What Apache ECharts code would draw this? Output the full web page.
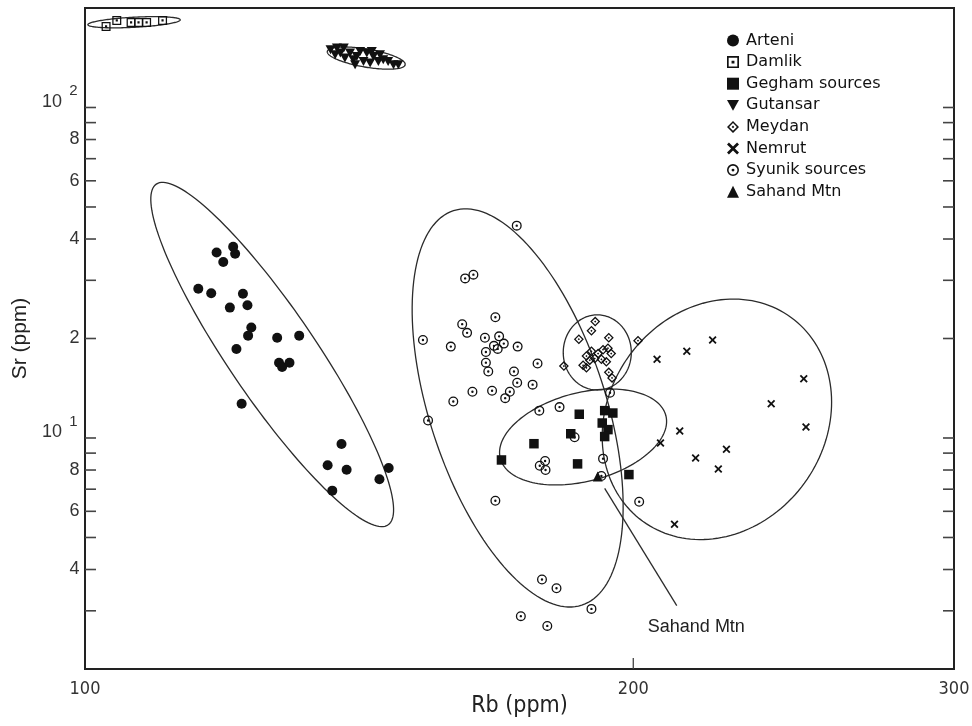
<!DOCTYPE html>
<html><head><meta charset="utf-8">
<script src="https://cdn.jsdelivr.net/npm/echarts@6/dist/echarts.min.js"></script>
<style>html,body{margin:0;padding:0;background:#fff;}#chart{width:972px;height:726px;}</style>
</head><body><div id="chart"></div>
<script>
// ---- data (Rb ppm, Sr ppm) ----
const seriesNames = ['Arteni','Damlik','Gegham sources','Gutansar','Meydan','Nemrut','Syunik sources','Sahand Mtn'];
const arteni = [[118.1,36.4],[120.6,37.9],[120.9,36.1],[119.1,34.1],[115.4,28.3],[117.3,27.4],[122.1,27.3],[120.1,24.8],[122.8,25.2],[123.4,21.6],[122.9,20.4],[127.5,20.1],[131.1,20.4],[121.1,18.6],[127.8,16.9],[128.3,16.4],[129.5,16.9],[121.9,12.7],[138.3,9.59],[135.9,8.27],[139.2,8.02],[136.7,6.93],[145.1,7.50],[146.8,8.11]];
const damlik = [[102.7,175.9],[104.1,183.4],[106.0,180.9],[107.0,180.9],[108.1,180.9],[110.3,183.4]];
const gegham = [[186.8,11.8],[192.9,12.1],[194.9,11.9],[192.3,11.1],[193.7,10.6],[192.9,10.1],[184.8,10.3],[176.4,9.61],[169.3,8.58],[186.4,8.35],[198.9,7.75]];
const gutansar = [[136.4,149.5],[137.5,151.3],[138.7,151.3],[138.1,146.1],[137.2,144.4],[139.8,146.1],[138.9,141.1],[140.4,139.4],[141.0,142.7],[141.6,147.8],[142.8,146.1],[144.0,142.7],[140.7,134.7],[142.2,137.8],[143.4,136.3],[144.9,137.8],[145.8,139.4],[146.7,137.8],[147.7,134.7],[148.6,134.7],[145.2,144.4],[143.7,147.8]];
const meydan = [[190.6,22.5],[189.7,21.1],[186.7,19.9],[193.9,20.1],[188.5,17.7],[189.7,18.3],[191.3,18.0],[192.5,18.5],[193.7,18.7],[194.5,18.0],[189.3,17.2],[190.5,17.4],[192.1,17.3],[193.3,17.0],[187.7,16.6],[188.5,16.3],[193.9,15.8],[194.7,15.2],[183.2,16.5],[201.2,19.7]];
const nemrut = [[206.1,17.3],[214.0,18.3],[221.1,19.8],[248.1,15.1],[238.1,12.7],[248.8,10.8],[212.1,10.5],[207.0,9.66],[225.0,9.24],[216.4,8.70],[222.7,8.06],[210.7,5.48]];
const syunik = [[172.6,43.9],[161.7,30.4],[163.4,31.2],[168.0,23.2],[161.1,22.1],[162.1,20.8],[153.3,19.8],[158.8,18.9],[165.8,20.1],[168.8,20.3],[167.7,19.0],[169.8,19.3],[168.5,18.6],[166.0,18.2],[166.0,16.9],[166.5,15.9],[172.8,18.9],[177.2,16.8],[172.0,15.9],[172.7,14.7],[176.1,14.5],[163.2,13.8],[167.3,13.9],[171.1,13.8],[170.1,13.2],[159.3,12.9],[154.3,11.3],[177.6,12.1],[182.2,12.4],[185.7,10.05],[177.7,8.24],[179.0,8.00],[178.9,8.52],[192.5,8.66],[168.0,6.46],[201.5,6.41],[178.2,3.73],[181.5,3.51],[189.7,3.04],[173.5,2.89],[179.4,2.70],[194.2,13.7],[192.1,7.67]];
const sahand = [[191.2,7.65]];

// group ellipses: [centre Rb, centre Sr, axis-1 end Rb, Sr, axis-2 end Rb, Sr]
const ellipseArteni   = [126.7,17.89,146.7,5.46,132.6,21.28];
const ellipseSyunik   = [172.8,12.33,187.4,3.12,192.1,14.90];
const ellipseMeydan   = [191.1,18.15,191.1,13.97,199.5,18.15];
const ellipseGegham   = [187.7,10.07,208.4,11.70,190.4,7.47];
const ellipseNemrut   = [222.3,11.39,202.4,5.60,248.3,7.30];
const ellipseDamlik   = [106.4,181.1,112.8,184.3,106.5,174.9];
const ellipseGutansar = [142.7,141.1,149.9,134.7,142.4,132.6];

// annotation
const sahandLeader = [[192.9,7.04],[211.3,3.11]];
const sahandLabel = ['Sahand Mtn'];
const sahandLabelAt = [[216.6,2.68]];

// axes
const X_MIN = 100, X_MAX = 300, Y_MIN = 2, Y_MAX = 200;
const yTickValues = [3,4,5,6,7,8,9,10,20,30,40,50,60,70,80,90,100];
const yLabelValues = [4,6,8,10,20,40,60,80,100];
const yLabelTexts = ['4','6','8','10^1','2','4','6','8','10^2'];
const xTickValues = [200];
const xLabelValues = [100,200,300];
const xLabelTexts = ['100','200','300'];

// ---- symbols ----
const SYM = {
  squareDot: 'path://M0,0L10,0L10,10L0,10Z M1.4,1.4L1.4,8.6L8.6,8.6L8.6,1.4Z M3.8,3.8L6.2,3.8L6.2,6.2L3.8,6.2Z',
  diamondDot: 'path://M5,0L10,5L5,10L0,5Z M5,1.8L1.8,5L5,8.2L8.2,5Z M5,3.9L6.1,5L5,6.1L3.9,5Z',
  circleDot: 'path://M5,0A5,5,0,1,1,5,10A5,5,0,1,1,5,0Z M5,1.3A3.7,3.7,0,1,0,5,8.7A3.7,3.7,0,1,0,5,1.3Z M5,3.8A1.2,1.2,0,1,1,5,6.2A1.2,1.2,0,1,1,5,3.8Z',
  xMark: 'path://M0,1.6L1.6,0L5,3.4L8.4,0L10,1.6L6.6,5L10,8.4L8.4,10L5,6.6L1.6,10L0,8.4L3.4,5Z',
  downTri: 'path://M0,0L10,0L5,9Z'
};
const INK = '#111';
const NARROW = '"Liberation Sans Narrow","DejaVu Sans Condensed","Liberation Sans",sans-serif';
const SANS = '"Liberation Sans",Arial,sans-serif';

function scatter(name, data, symbol, size) {
  return {type:'scatter', name, data, symbol, symbolSize:size, itemStyle:{color:INK, opacity:1}, z:5, silent:true};
}
function ellipseSeries(params) {
  return {
    type:'custom', coordinateSystem:'cartesian2d', data:[params], silent:true, z:3,
    encode:{x:0, y:1},
    renderItem:(p, api) => {
      const c = api.coord([api.value(0), api.value(1)]);
      const a = api.coord([api.value(2), api.value(3)]);
      const b = api.coord([api.value(4), api.value(5)]);
      const pts = [];
      const N = 160;
      for (let i = 0; i <= N; i++) {
        const t = i / N * Math.PI * 2;
        pts.push([c[0] + (a[0]-c[0])*Math.cos(t) + (b[0]-c[0])*Math.sin(t),
                  c[1] + (a[1]-c[1])*Math.cos(t) + (b[1]-c[1])*Math.sin(t)]);
      }
      return {type:'polyline', shape:{points:pts}, style:{fill:null, stroke:'#2b2b2b', lineWidth:1.3}};
    }
  };
}

const chart = echarts.init(document.getElementById('chart'), null, {renderer:'canvas'});
chart.setOption({
  animation:false,
  backgroundColor:'#fff',
  grid:{left:85, right:18, top:8, bottom:57, show:true, borderColor:'#222', borderWidth:2, backgroundColor:'transparent'},
  xAxis:{type:'log', logBase:10, min:X_MIN, max:X_MAX,
    axisLine:{show:false}, axisTick:{show:false}, axisLabel:{show:false}, splitLine:{show:false},
    name:'Rb (ppm)', nameLocation:'middle', nameGap:26,
    nameTextStyle:{fontFamily:NARROW, fontSize:23, color:'#222'}},
  yAxis:{type:'log', logBase:10, min:Y_MIN, max:Y_MAX,
    axisLine:{show:false}, axisTick:{show:false}, axisLabel:{show:false}, splitLine:{show:false},
    name:'Sr (ppm)', nameLocation:'middle', nameGap:54,
    nameTextStyle:{fontFamily:SANS, fontSize:21, color:'#222'}},
  legend:{orient:'vertical', left:727, top:32.5, itemWidth:12, itemHeight:12, itemGap:5.6, padding:0,
    selectedMode:false, data:seriesNames,
    textStyle:{fontFamily:'"DejaVu Sans",sans-serif', fontSize:16, lineHeight:16, color:'#111', padding:[0,0,0,2]}},
  series:[
    ellipseSeries(ellipseArteni), ellipseSeries(ellipseSyunik), ellipseSeries(ellipseMeydan),
    ellipseSeries(ellipseGegham), ellipseSeries(ellipseNemrut), ellipseSeries(ellipseDamlik),
    ellipseSeries(ellipseGutansar),
    {type:'line', data:sahandLeader, symbol:'none', silent:true, z:3,
      lineStyle:{color:'#2b2b2b', width:1.3}},
    {type:'custom', coordinateSystem:'cartesian2d', data:sahandLabelAt, silent:true, z:4,
      renderItem:(p, api) => {
        const c = api.coord([api.value(0), api.value(1)]);
        return {type:'text', x:c[0], y:c[1], style:{text:sahandLabel[p.dataIndex], fontFamily:SANS, fontSize:18,
          fill:'#222', align:'center', verticalAlign:'middle'}};
      }},
    // y ticks (left and right, pointing inwards)
    {type:'custom', coordinateSystem:'cartesian2d', data:yTickValues.map(v => [X_MIN, v]), silent:true, z:4,
      renderItem:(p, api) => {
        const v = api.value(1);
        const l = api.coord([X_MIN, v]), r = api.coord([X_MAX, v]);
        return {type:'group', children:[
          {type:'line', shape:{x1:l[0], y1:l[1], x2:l[0]+11, y2:l[1]}, style:{stroke:'#444', lineWidth:1.6}},
          {type:'line', shape:{x1:r[0], y1:r[1], x2:r[0]-11, y2:r[1]}, style:{stroke:'#444', lineWidth:1.6}}
        ]};
      }},
    // x ticks
    {type:'custom', coordinateSystem:'cartesian2d', data:xTickValues.map(v => [v, Y_MIN]), silent:true, z:4,
      renderItem:(p, api) => {
        const b = api.coord([api.value(0), Y_MIN]);
        return {type:'line', shape:{x1:b[0], y1:b[1], x2:b[0], y2:b[1]-11}, style:{stroke:'#444', lineWidth:1.3}};
      }},
    // y labels
    {type:'custom', coordinateSystem:'cartesian2d', data:yLabelValues.map(v => [X_MIN, v]), silent:true, z:4,
      renderItem:(p, api) => {
        const c = api.coord([X_MIN, api.value(1)]);
        const txt = yLabelTexts[p.dataIndex];
        if (txt.indexOf('^') >= 0) {
          const parts = txt.split('^');
          return {type:'group', children:[
            {type:'text', x:c[0]-23, y:c[1]-5.5, style:{text:parts[0], fontFamily:SANS, fontSize:18, fill:'#333', align:'right', verticalAlign:'middle'}},
            {type:'text', x:c[0]-7.5, y:c[1]-16.5, style:{text:parts[1], fontFamily:SANS, fontSize:15, fill:'#333', align:'right', verticalAlign:'middle'}}
          ]};
        }
        return {type:'text', x:c[0]-5.5, y:c[1], style:{text:txt, fontFamily:SANS, fontSize:18, fill:'#333', align:'right', verticalAlign:'middle'}};
      }},
    // x labels
    {type:'custom', coordinateSystem:'cartesian2d', data:xLabelValues.map(v => [v, Y_MIN]), silent:true, z:4,
      renderItem:(p, api) => {
        const c = api.coord([api.value(0), Y_MIN]);
        return {type:'text', x:c[0], y:c[1]+11, style:{text:xLabelTexts[p.dataIndex], fontFamily:NARROW, fontSize:18, fill:'#333', align:'center', verticalAlign:'top'}};
      }},
    scatter('Arteni', arteni, 'circle', 10),
    scatter('Damlik', damlik, SYM.squareDot, 9),
    scatter('Gegham sources', gegham, 'rect', 9.5),
    scatter('Gutansar', gutansar, SYM.downTri, [10,9]),
    scatter('Meydan', meydan, SYM.diamondDot, 10),
    scatter('Nemrut', nemrut, SYM.xMark, 8),
    scatter('Syunik sources', syunik, SYM.circleDot, 10),
    scatter('Sahand Mtn', sahand, 'triangle', 10)
  ]
});
</script></body></html>
